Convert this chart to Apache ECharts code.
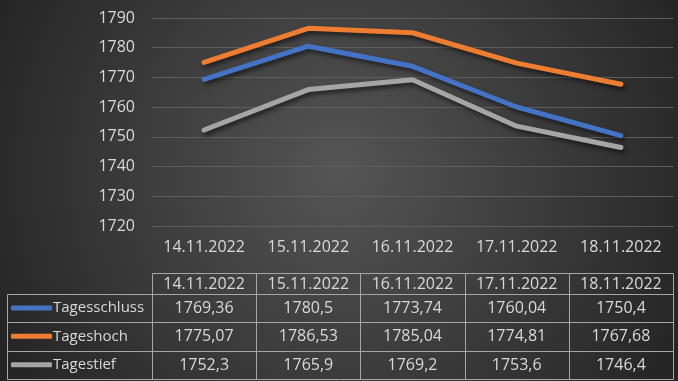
<!DOCTYPE html>
<html>
<head>
<meta charset="utf-8">
<script src="https://cdn.jsdelivr.net/npm/echarts@6/dist/echarts.min.js"></script>
<style>
html,body{margin:0;padding:0;background:#333;}
#chart{width:678px;height:381px;}
</style>
</head>
<body>
<div id="chart"></div>
<script>
const categories = ['14.11.2022', '15.11.2022', '16.11.2022', '17.11.2022', '18.11.2022'];
const seriesNames = ['Tagesschluss', 'Tageshoch', 'Tagestief'];
const tagesschluss = [1769.36, 1780.5, 1773.74, 1760.04, 1750.4];
const tageshoch = [1775.07, 1786.53, 1785.04, 1774.81, 1767.68];
const tagestief = [1752.3, 1765.9, 1769.2, 1753.6, 1746.4];
const yTicks = { min: 1720, max: 1790, interval: 10 };
const colors = ['#4472C4', '#ED7D31', '#A5A5A5'];

const values = [tagesschluss, tageshoch, tagestief];
const FONT = 'Open Sans';
const FS = 16;
const TXT = '#d9d9d9';
const W = 678, H = 381;
const gridLeft = 152, gridRight = 5, gridTop = 18, gridBottom = H - 226;
const plotW = W - gridLeft - gridRight;
const colW = plotW / categories.length;
const tableX0 = 7;
const rowY = [273, 294, 322, 350.5, 379];
const lineColor = '#a6a6a6';

const fmt = v => String(v).replace('.', ',');

const graphics = [];
function hline(x1, x2, y) {
  graphics.push({ type: 'line', silent: true, shape: { x1: x1, y1: y, x2: x2, y2: y },
    style: { stroke: lineColor, lineWidth: 1 } });
}
function vline(x, y1, y2) {
  graphics.push({ type: 'line', silent: true, shape: { x1: x, y1: y1, x2: x, y2: y2 },
    style: { stroke: lineColor, lineWidth: 1 } });
}
function text(str, cx, cy) {
  graphics.push({ type: 'text', silent: true, x: cx, y: cy,
    style: { text: str, fill: TXT, font: FS + 'px "' + FONT + '"', align: 'center', verticalAlign: 'middle' } });
}
const xEdge = i => Math.round(gridLeft + i * colW) + 0.5;
hline(xEdge(0), xEdge(categories.length), rowY[0] + 0.5);
for (let r = 1; r < rowY.length; r++) hline(tableX0 + 0.5, xEdge(categories.length), Math.round(rowY[r]) + 0.5);
vline(tableX0 + 0.5, Math.round(rowY[1]) + 0.5, Math.round(rowY[4]) + 0.5);
for (let i = 0; i <= categories.length; i++) vline(xEdge(i), rowY[0] + 0.5, Math.round(rowY[4]) + 0.5);
categories.forEach((c, i) => text(c, gridLeft + (i + 0.5) * colW, (rowY[0] + rowY[1]) / 2 + 0.5));
values.forEach((arr, r) => {
  arr.forEach((v, i) => text(fmt(v), gridLeft + (i + 0.5) * colW, (rowY[r + 1] + rowY[r + 2]) / 2 + 0.5));
});

const legends = seriesNames.map((n, r) => ({
  data: [n],
  left: 11,
  top: (rowY[r + 1] + rowY[r + 2]) / 2 - 10,
  padding: 0,
  itemWidth: 41,
  itemHeight: 5,
  icon: 'roundRect',
  selectedMode: false,
  textStyle: { color: TXT, fontFamily: FONT, fontSize: 15, lineHeight: 20, padding: [0, 0, 0, -4] }
}));

const chart = echarts.init(document.getElementById('chart'));
chart.setOption({
  backgroundColor: {
    type: 'radial', x: 0.5, y: 0.45, r: 1.0,
    colorStops: [{ offset: 0, color: '#555555' }, { offset: 1, color: '#252525' }]
  },
  animation: false,
  textStyle: { fontFamily: FONT },
  legend: legends,
  grid: { left: gridLeft, right: gridRight, top: gridTop, bottom: gridBottom, containLabel: false },
  xAxis: {
    type: 'category', data: categories, boundaryGap: true,
    axisLine: { show: false }, axisTick: { show: false },
    axisLabel: { color: TXT, fontSize: FS, fontFamily: FONT, margin: 13, interval: 0 }
  },
  yAxis: {
    type: 'value', min: yTicks.min, max: yTicks.max, interval: yTicks.interval,
    axisLine: { show: false }, axisTick: { show: false },
    axisLabel: { color: TXT, fontSize: FS, fontFamily: FONT, margin: 17, formatter: v => String(v) },
    splitLine: { lineStyle: { color: '#5e5e5e', width: 1 } }
  },
  series: seriesNames.map((n, i) => ({
    name: n, type: 'line', data: values[i], symbol: 'none',
    itemStyle: { color: colors[i] },
    lineStyle: { color: colors[i], width: 5, cap: 'round', join: 'round',
      shadowColor: 'rgba(0,0,0,0.55)', shadowBlur: 4, shadowOffsetX: 2, shadowOffsetY: 3 }
  })),
  graphic: graphics
});
</script>
</body>
</html>
